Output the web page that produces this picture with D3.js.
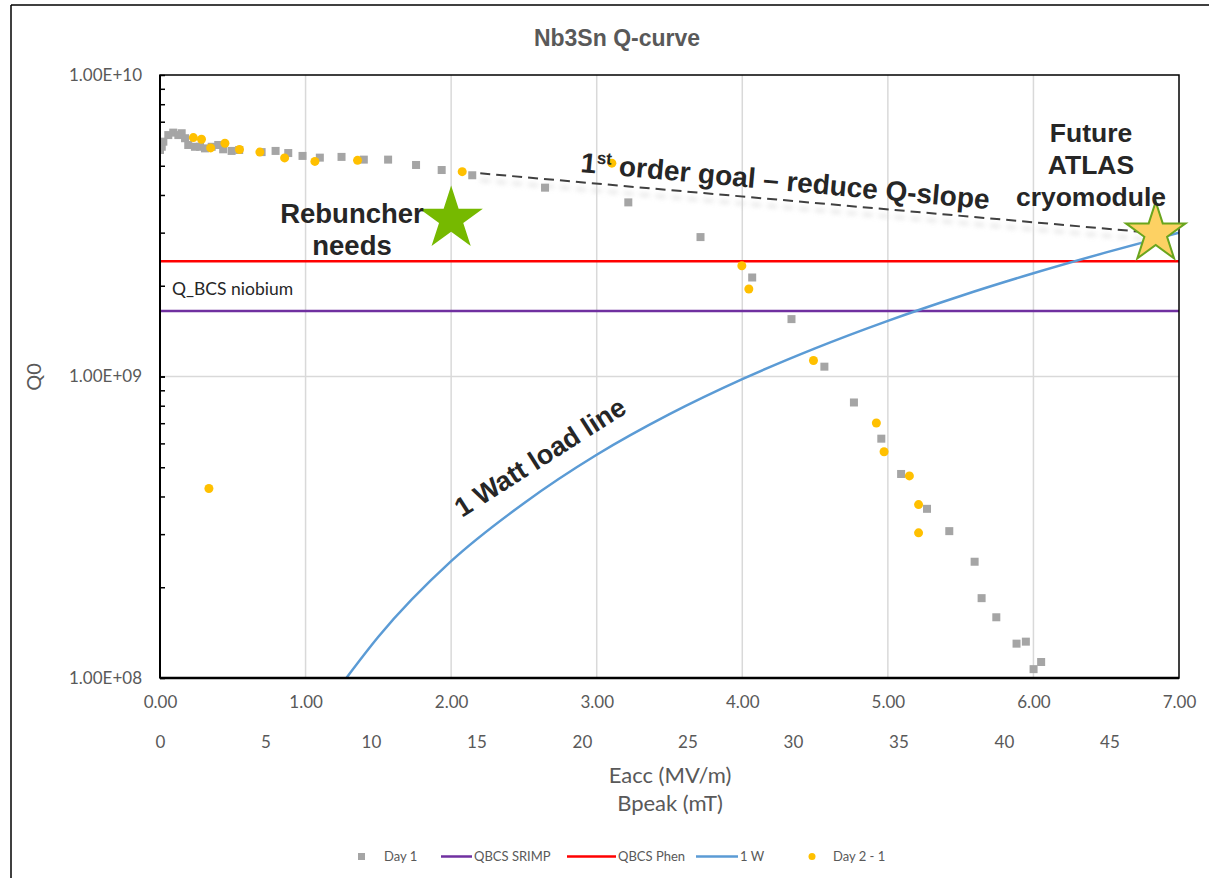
<!DOCTYPE html>
<html>
<head>
<meta charset="utf-8">
<script src="https://cdn.jsdelivr.net/npm/d3@7"></script>
<style>
  body { margin: 0; background: #fff; }
  text { font-family: Lato, "Open Sans", sans-serif; }
  .bold { font-family: "Liberation Sans", Arial, sans-serif; font-weight: bold; fill: #262626; }
</style>
</head>
<body>
<div id="chart"></div>
<script>
// Day 1 measurements (Eacc MV/m, Q0)
var day1E = [0.00, 0.012, 0.023, 0.057, 0.091, 0.126, 0.149, 0.172, 0.194, 0.24, 0.275, 0.309, 0.355, 0.40, 0.434,
  0.492, 0.544, 0.698, 0.794, 0.881, 0.979, 1.098, 1.247, 1.40, 1.567, 1.759, 1.935, 2.145, 2.645, 3.217,
  3.713, 4.068, 4.338, 4.564, 4.767, 4.955, 5.091, 5.269, 5.422, 5.596, 5.644, 5.745, 5.884, 5.948, 6.001, 6.053];
var day1Q = [5.64e9, 5.78e9, 6.01e9, 6.32e9, 6.44e9, 6.32e9, 6.41e9, 6.17e9, 5.86e9, 5.78e9, 5.78e9, 5.71e9, 5.78e9, 5.86e9, 5.67e9,
  5.60e9, 5.64e9, 5.55e9, 5.60e9, 5.51e9, 5.39e9, 5.32e9, 5.35e9, 5.24e9, 5.24e9, 5.03e9, 4.84e9, 4.65e9, 4.23e9, 3.78e9,
  2.90e9, 2.13e9, 1.55e9, 1.078e9, 8.20e8, 6.22e8, 4.75e8, 3.64e8, 3.07e8, 2.43e8, 1.84e8, 1.59e8, 1.30e8, 1.32e8, 1.07e8, 1.13e8];

// Day 2 - 1 measurements
var day2E = [0.229, 0.285, 0.348, 0.446, 0.546, 0.686, 0.856, 1.064, 1.357, 2.076, 3.104, 3.997, 4.045, 4.489,
  4.921, 4.974, 5.148, 5.211, 5.211, 0.336];
var day2Q = [6.20e9, 6.12e9, 5.73e9, 5.94e9, 5.66e9, 5.55e9, 5.31e9, 5.17e9, 5.21e9, 4.78e9, 5.10e9, 2.33e9, 1.95e9, 1.13e9,
  7.01e8, 5.63e8, 4.68e8, 3.76e8, 3.03e8, 4.25e8];

// 1 W load line
var loadE = [1.28, 1.5, 2, 2.5, 3, 3.5, 4, 4.5, 5, 5.5, 6, 6.5, 7];
var loadQ = [1.0e8, 1.37e8, 2.44e8, 3.8e8, 5.5e8, 7.5e8, 9.8e8, 1.24e9, 1.53e9, 1.85e9, 2.2e9, 2.58e9, 3.0e9];

// constant BCS levels
var qbcsSrimp = 1.65e9;
var qbcsPhen = 2.41e9;

// goal line and target stars
var goalE = [2.2, 6.84];
var goalQ = [4.72e9, 2.99e9];
var rebuncher = [2.0, 3.33e9];
var future = [6.84, 2.99e9];

var eaccTicks = [0, 1, 2, 3, 4, 5, 6, 7];
var bpeakTicks = [0, 5, 10, 15, 20, 25, 30, 35, 40, 45];
var qTicks = [1e8, 1e9, 1e10];

var W = 1209, H = 878;
var margin = { top: 75, right: 30, bottom: 200, left: 160 };
var width = 1179 - margin.left, height = 678 - margin.top;

var svg = d3.select("#chart").append("svg")
  .attr("width", W).attr("height", H);

// outer frame (left and top edges visible)
svg.append("line").attr("x1", 11).attr("x2", 11).attr("y1", 5).attr("y2", H).attr("stroke", "#000").attr("stroke-width", 1.5);
svg.append("line").attr("x1", 11).attr("x2", W).attr("y1", 5).attr("y2", 5).attr("stroke", "#000").attr("stroke-width", 1.5);

svg.append("text").attr("class", "bold")
  .attr("x", 617).attr("y", 46).attr("text-anchor", "middle")
  .style("font-size", "23px").style("fill", "#595959")
  .text("Nb3Sn Q-curve");

var defs = svg.append("defs");
defs.append("clipPath").attr("id", "clip").append("rect")
  .attr("width", width).attr("height", height);
defs.append("filter").attr("id", "blur").append("feGaussianBlur").attr("stdDeviation", 2.5);

var g = svg.append("g").attr("transform", "translate(" + margin.left + "," + margin.top + ")");

var x = d3.scaleLinear().domain([0, 7]).range([0, width]);
var x2 = d3.scaleLinear().domain([0, 7 * 6.9]).range([0, width]);
var y = d3.scaleLog().domain([1e8, 1e10]).range([height, 0]);

// grid
g.selectAll(".vgrid").data(eaccTicks.slice(1, 7)).enter().append("line")
  .attr("x1", d => x(d)).attr("x2", d => x(d)).attr("y1", 0).attr("y2", height)
  .attr("stroke", "#d9d9d9").attr("stroke-width", 1.5);
g.append("line").attr("x1", 0).attr("x2", width).attr("y1", y(1e9)).attr("y2", y(1e9))
  .attr("stroke", "#d9d9d9").attr("stroke-width", 1.5);

// minor ticks inside the left axis
var minors = [];
[1e8, 1e9].forEach(function (b) { for (var k = 1; k <= 10; k++) minors.push(b * k); });
g.append("g").call(d3.axisRight(y).tickValues(minors).tickSize(5).tickFormat(""))
  .call(a => a.select(".domain").remove())
  .selectAll("line").attr("stroke", "#000").attr("stroke-width", 1.5);

// y labels
g.append("g").call(d3.axisLeft(y).tickValues(qTicks).tickSize(0).tickPadding(18)
    .tickFormat(d => d3.format(".2e")(d).toUpperCase().replace(/E\+(\d)$/, "E+0$1")))
  .call(a => a.select(".domain").remove())
  .selectAll("text").style("font-size", "17px").style("fill", "#595959").style("font-family", "Lato");

// x labels (Eacc)
g.append("g").attr("transform", "translate(0," + height + ")")
  .call(d3.axisBottom(x).tickValues(eaccTicks).tickSize(0).tickPadding(18).tickFormat(d3.format(".2f")))
  .call(a => a.select(".domain").remove())
  .selectAll("text").style("font-size", "17px").style("fill", "#595959").style("font-family", "Lato");

// second x labels (Bpeak)
g.append("g").attr("transform", "translate(0," + (height + 40) + ")")
  .call(d3.axisBottom(x2).tickValues(bpeakTicks).tickSize(0).tickPadding(18))
  .call(a => a.select(".domain").remove())
  .selectAll("text").style("font-size", "17px").style("fill", "#595959").style("font-family", "Lato");

svg.append("text").attr("x", 670).attr("y", 783).attr("text-anchor", "middle")
  .style("font-size", "22px").style("fill", "#595959").text("Eacc (MV/m)");
svg.append("text").attr("x", 670).attr("y", 811).attr("text-anchor", "middle")
  .style("font-size", "22px").style("fill", "#595959").text("Bpeak (mT)");
svg.append("text").attr("transform", "translate(41,377) rotate(-90)").attr("text-anchor", "middle")
  .style("font-size", "20px").style("fill", "#595959").text("Q0");

var plot = g.append("g").attr("clip-path", "url(#clip)");

// horizontal BCS lines
plot.append("line").attr("x1", 0).attr("x2", width).attr("y1", y(qbcsSrimp)).attr("y2", y(qbcsSrimp))
  .attr("stroke", "#7030a0").attr("stroke-width", 2.5);
plot.append("line").attr("x1", 0).attr("x2", width).attr("y1", y(qbcsPhen)).attr("y2", y(qbcsPhen))
  .attr("stroke", "#ff0000").attr("stroke-width", 2.5);

// 1 W line
var loadData = loadE.map((e, i) => [e, loadQ[i]]);
plot.append("path").datum(loadData)
  .attr("d", d3.line().x(d => x(d[0])).y(d => y(d[1])).curve(d3.curveMonotoneX))
  .attr("fill", "none").attr("stroke", "#5b9bd5").attr("stroke-width", 2.5);

// goal dashed line with soft shadow
var goalData = goalE.map((e, i) => [e, goalQ[i]]);
var goalLine = d3.line().x(d => x(d[0])).y(d => y(d[1]));
plot.append("path").datum(goalData).attr("d", goalLine)
  .attr("transform", "translate(0,7)")
  .attr("stroke", "#d4d4d4").attr("stroke-width", 3).attr("stroke-dasharray", "10,6")
  .attr("opacity", 0.7).attr("filter", "url(#blur)").attr("fill", "none");
plot.append("path").datum(goalData).attr("d", goalLine)
  .attr("stroke", "#404040").attr("stroke-width", 2).attr("stroke-dasharray", "10,6").attr("fill", "none");

// Day 1 squares
var d1 = day1E.map((e, i) => [e, day1Q[i]]);
plot.selectAll(".sq").data(d1).enter().append("rect")
  .attr("x", d => x(d[0]) - 4).attr("y", d => y(d[1]) - 4)
  .attr("width", 8).attr("height", 8).attr("fill", "#a5a5a5");

// Day 2 - 1 circles
var d2 = day2E.map((e, i) => [e, day2Q[i]]);
plot.selectAll(".dot").data(d2).enter().append("circle")
  .attr("cx", d => x(d[0])).attr("cy", d => y(d[1])).attr("r", 4.5).attr("fill", "#ffc000");

// plot border
g.append("rect").attr("width", width).attr("height", height)
  .attr("fill", "none").attr("stroke", "#000").attr("stroke-width", 1.5);
g.append("line").attr("x1", 0).attr("x2", width).attr("y1", height).attr("y2", height)
  .attr("stroke", "#000").attr("stroke-width", 2.5);
g.append("line").attr("x1", 0).attr("x2", 0).attr("y1", 0).attr("y2", height)
  .attr("stroke", "#000").attr("stroke-width", 2);

// stars
var star = d3.symbol().type(d3.symbolStar);
g.append("path").attr("d", star.size(1250)())
  .attr("transform", "translate(" + x(rebuncher[0]) + "," + y(rebuncher[1]) + ")")
  .attr("fill", "#76b900");
g.append("path").attr("d", star.size(1100)())
  .attr("transform", "translate(" + x(future[0]) + "," + y(future[1]) + ")")
  .attr("fill", "#fdd163").attr("stroke", "#6aa51d").attr("stroke-width", 2);

// annotations
var reb = svg.append("text").attr("class", "bold").attr("text-anchor", "middle").style("font-size", "27.5px");
reb.append("tspan").attr("x", 352).attr("y", 223).text("Rebuncher");
reb.append("tspan").attr("x", 352).attr("y", 255).text("needs");

var fut = svg.append("text").attr("class", "bold").attr("text-anchor", "middle").style("font-size", "26.5px");
fut.append("tspan").attr("x", 1091).attr("y", 142).text("Future");
fut.append("tspan").attr("x", 1091).attr("y", 174).text("ATLAS");
fut.append("tspan").attr("x", 1091).attr("y", 206).text("cryomodule");

var goalT = svg.append("text").attr("class", "bold").style("font-size", "28px")
  .attr("transform", "translate(580,172) rotate(5.2)");
goalT.append("tspan").text("1");
goalT.append("tspan").attr("dy", -10).style("font-size", "17px").text("st");
goalT.append("tspan").attr("dy", 10).text(" order goal \u2013 reduce Q-slope");

svg.append("text").attr("class", "bold").style("font-size", "27px").attr("text-anchor", "middle")
  .attr("transform", "translate(545,465) rotate(-32.5)").text("1 Watt load line");

svg.append("text").attr("x", 172).attr("y", 295).style("font-size", "17.5px").style("fill", "#262626")
  .text("Q_BCS niobium");

// legend
var leg = svg.append("g").style("font-size", "13px");
leg.append("rect").attr("x", 358).attr("y", 853).attr("width", 7).attr("height", 7).attr("fill", "#a5a5a5");
leg.append("text").attr("x", 384).attr("y", 861).style("fill", "#595959").text("Day 1");
var legLines = [["#7030a0", 441, 472, "QBCS SRIMP"], ["#ff0000", 567, 616, "QBCS Phen"], ["#5b9bd5", 696, 738, "1 W"]];
legLines.forEach(function (l) {
  leg.append("line").attr("x1", l[1]).attr("x2", l[2]).attr("y1", 856.5).attr("y2", 856.5)
    .attr("stroke", l[0]).attr("stroke-width", 2.5);
  leg.append("text").attr("x", l[2] + 2).attr("y", 861).style("fill", "#595959").text(l[3]);
});
leg.append("circle").attr("cx", 812).attr("cy", 856.5).attr("r", 3.5).attr("fill", "#ffc000");
leg.append("text").attr("x", 833).attr("y", 861).style("fill", "#595959").text("Day 2 - 1");
</script>
</body>
</html>
